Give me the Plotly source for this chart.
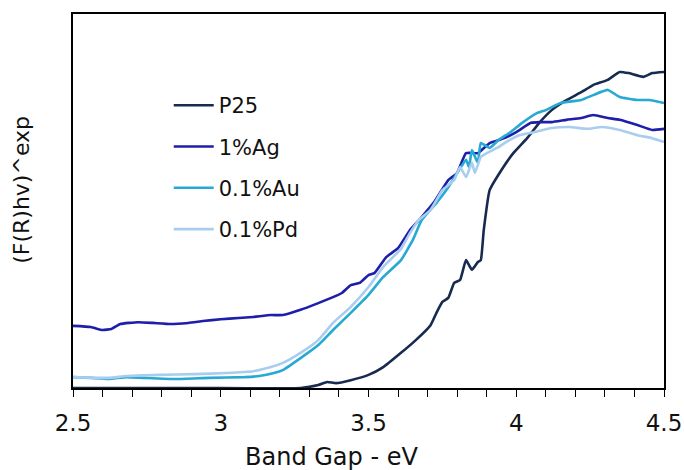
import plotly.graph_objects as go

# ---------------- data ----------------
p25_x = [2.50, 2.93, 3.27, 3.33, 3.36, 3.39, 3.44, 3.50, 3.55, 3.61, 3.66, 3.71, 3.73, 3.75,
         3.77, 3.79, 3.81, 3.83, 3.85, 3.87, 3.88, 3.89, 3.91, 3.95, 3.99, 4.04, 4.08, 4.12,
         4.16, 4.22, 4.26, 4.31, 4.35, 4.38, 4.43, 4.46, 4.50]
p25_y = [0.0, 0.0, 0.0, 0.8, 1.6, 1.3, 2.1, 3.5, 5.6, 9.4, 12.8, 16.8, 20.1, 23.0,
         24.1, 28.1, 28.9, 34.2, 31.6, 33.7, 34.2, 42.2, 52.9, 58.3, 62.8, 67.1, 71.1, 74.3,
         76.5, 79.1, 81.0, 82.4, 84.5, 84.2, 83.2, 84.2, 84.5]

ag_x = [2.50, 2.56, 2.60, 2.63, 2.66, 2.72, 2.77, 2.83, 2.89, 2.94, 3.00, 3.06, 3.11, 3.17,
        3.21, 3.27, 3.33, 3.38, 3.41, 3.44, 3.47, 3.50, 3.52, 3.56, 3.60, 3.64, 3.68, 3.72,
        3.77, 3.80, 3.83, 3.87, 3.91, 3.96, 4.00, 4.05, 4.08, 4.12, 4.17, 4.22, 4.26, 4.31,
        4.35, 4.41, 4.46, 4.50]
ag_y = [16.6, 16.3, 15.5, 15.8, 17.1, 17.6, 17.4, 17.1, 17.4, 17.9, 18.4, 18.7, 19.0, 19.5,
        19.5, 20.9, 22.7, 24.3, 25.4, 27.5, 28.1, 30.2, 30.7, 35.0, 37.4, 42.2, 45.7, 49.5,
        55.6, 57.5, 62.8, 62.8, 65.5, 66.8, 68.4, 70.9, 71.1, 71.1, 71.7, 72.2, 73.0, 72.2,
        71.7, 70.3, 69.0, 69.3]

au_x = [2.50, 2.56, 2.62, 2.68, 2.74, 2.85, 2.96, 3.08, 3.13, 3.18, 3.21, 3.27, 3.33, 3.38,
        3.44, 3.50, 3.55, 3.61, 3.65, 3.68, 3.73, 3.77, 3.80, 3.83, 3.84, 3.85, 3.87, 3.88,
        3.91, 3.94, 3.98, 4.02, 4.07, 4.10, 4.15, 4.22, 4.26, 4.31, 4.35, 4.41, 4.45, 4.50]
au_y = [2.9, 2.7, 2.4, 2.9, 2.7, 2.4, 2.7, 2.9, 3.2, 4.0, 4.8, 8.0, 11.5, 15.5,
        20.1, 24.9, 29.7, 34.2, 39.6, 44.9, 49.5, 53.7, 57.5, 61.0, 59.1, 63.6, 60.2, 65.5,
        64.2, 66.3, 68.4, 70.9, 73.5, 74.3, 76.2, 77.0, 78.3, 79.7, 77.8, 77.0, 77.0, 76.2]

pd_x = [2.50, 2.62, 2.68, 2.79, 2.91, 3.02, 3.11, 3.17, 3.21, 3.27, 3.33, 3.38, 3.44, 3.50,
        3.55, 3.61, 3.64, 3.67, 3.71, 3.75, 3.79, 3.81, 3.83, 3.85, 3.86, 3.88, 3.90, 3.94,
        3.96, 4.01, 4.06, 4.12, 4.18, 4.24, 4.29, 4.35, 4.41, 4.46, 4.50]
pd_y = [2.9, 2.7, 3.2, 3.5, 3.7, 4.0, 4.5, 5.6, 6.7, 9.4, 12.8, 17.4, 21.7, 27.0,
        32.4, 37.2, 41.4, 44.9, 47.6, 52.9, 55.6, 59.1, 56.4, 60.2, 57.5, 61.8, 62.8, 64.4,
        65.5, 67.6, 68.4, 69.5, 69.8, 69.3, 69.8, 69.0, 67.6, 66.8, 65.8]

series_names = ["P25", "1%Ag", "0.1%Au", "0.1%Pd"]
series_colors = ["#172a4f", "#1e1eaa", "#27a9d3", "#a8cdee"]
x_ticks = [2.5, 3.0, 3.5, 4.0, 4.5]
x_tick_labels = ["2.5", "3", "3.5", "4", "4.5"]
x_title = "Band Gap - eV"
y_title = "(F(R)hv)^exp"

FONT = "DejaVu Sans"

fig = go.Figure()
for name, xs, ys, col in zip(series_names,
                             [p25_x, ag_x, au_x, pd_x],
                             [p25_y, ag_y, au_y, pd_y],
                             series_colors):
    fig.add_trace(go.Scatter(x=xs, y=ys, mode="lines", name=name, legendgroup=name,
                             line=dict(color=col, width=2.6, shape="spline", smoothing=0.4)))

fig.update_layout(
    width=684, height=470,
    margin=dict(l=73, r=20, t=14, b=82),
    paper_bgcolor="white", plot_bgcolor="white",
    font=dict(family=FONT, size=22, color="#111111"),
    showlegend=True,
    legend=dict(x=0.162, y=0.81, xanchor="left", yanchor="top",
                bgcolor="rgba(0,0,0,0)", borderwidth=0,
                font=dict(family=FONT, size=21, color="#111111"),
                tracegroupgap=11, itemwidth=40),
    xaxis=dict(range=[2.5, 4.5], tickvals=x_ticks, ticktext=x_tick_labels,
               automargin=False,
               showline=True, linecolor="black", linewidth=1.5, mirror=True,
               ticks="outside", ticklen=7, tickwidth=1.3, tickcolor="black",
               ticklabelstandoff=7,
               minor=dict(dtick=0.1, ticks="outside", ticklen=7, tickwidth=1.3, tickcolor="black"),
               showgrid=False, zeroline=False,
               tickfont=dict(family=FONT, size=23, color="#111111")),
    yaxis=dict(range=[0, 100], showline=True, linecolor="black", linewidth=1.5, mirror=True,
               automargin=False,
               showticklabels=False, ticks="", showgrid=False, zeroline=False),
    annotations=[
        dict(text=y_title, textangle=-90, xref="paper", yref="paper",
             x=(22 - 73) / 591, y=0.53, xanchor="center", yanchor="middle",
             showarrow=False, font=dict(family=FONT, size=22, color="#111111")),
        dict(text=x_title, xref="paper", yref="paper",
             x=(331 - 73) / 591, y=(388 - 457) / 374, xanchor="center", yanchor="middle",
             showarrow=False, font=dict(family=FONT, size=24, color="#111111")),
    ],
)

fig.write_html("out.html")
